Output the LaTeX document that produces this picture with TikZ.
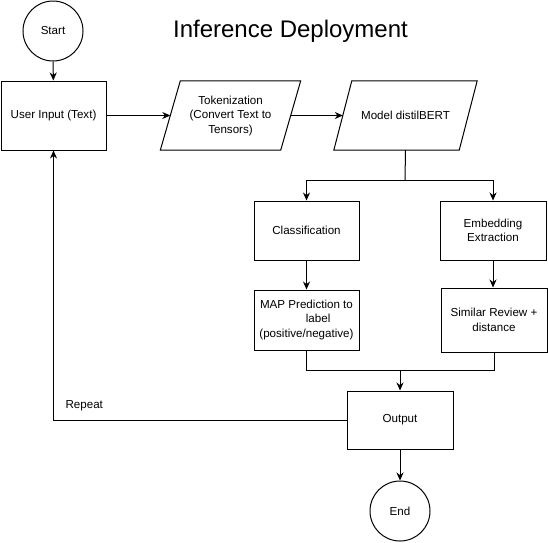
\documentclass[tikz,border=0pt]{standalone}
\usepackage{fontspec}
\setmainfont{Liberation Sans}
\usetikzlibrary{arrows.meta, positioning, calc}
\tikzset{
    blocco/.style={draw, line width=1pt, minimum width=105pt, minimum height=59pt, align=center, inner sep=2pt},
    parall/.style={minimum width=120pt, minimum height=69pt, align=center, inner sep=1pt},
    cerchio/.style={draw, circle, line width=1pt, minimum size=60pt, inner sep=0pt},
    freccia/.style={line width=1pt, -{Stealth[length=8pt, width=7pt]}},
    linea/.style={line width=1pt}
}

\begin{document}
\begin{tikzpicture}[x=1pt, y=-1pt, every node/.style={font=\fontsize{11.6}{14.5}\selectfont}]
    \useasboundingbox (0,0) rectangle (548,542);

    % Titolo
    \node (titolo) at (290.5,31) {\fontsize{24}{28}\selectfont Inference Deployment};

    % Inizio e input
    \node[cerchio] (start) at (53,31) {Start};
    \node[blocco, minimum height=69pt] (input) at (53.5,115.5) {User Input (Text)};

    % Tokenizzazione e modello (parallelogrammi)
    \node[parall] (token) at (230.5,115.5) {Tokenization\\(Convert Text to\\Tensors)};
    \node[parall, minimum width=125pt] (modello) at (405.5,115.5) {Model distilBERT};
    \draw[linea] ($(token.north west)+(10,0)$) -- ($(token.north east)+(10,0)$)
        -- ($(token.south east)+(-10,0)$) -- ($(token.south west)+(-10,0)$) -- cycle;
    \draw[linea] ($(modello.north west)+(9,0)$) -- ($(modello.north east)+(9,0)$)
        -- ($(modello.south east)+(-9,0)$) -- ($(modello.south west)+(-9,0)$) -- cycle;

    % Rami: classificazione ed embedding
    \node[blocco] (classif) at (306.5,230.5) {Classification};
    \node[blocco, minimum width=106pt] (embed) at (493,230.5) {Embedding\\Extraction};
    \node[blocco, minimum height=60pt] (mappa) at (306.5,320)
        {\begin{tabular}{@{}c@{}}MAP Prediction to\\ \hfil label\hfil\\(positive/negative)\end{tabular}};
    \node[blocco, minimum width=106pt, minimum height=64pt] (simile) at (494,320) {Similar Review +\\distance};

    % Uscita e fine
    \node[blocco, minimum width=106pt, minimum height=58pt] (uscita) at (400,420) {Output};
    \node[cerchio] (fine) at (400,511) {End};
    \node[anchor=west] (ripeti) at (62,406) {Repeat};

    \coordinate (divide) at (405,180);
    \coordinate (unisci) at (400,370);

    % Frecce principali
    \draw[freccia] (start) -- (input);
    \draw[freccia] (input) -- (token);
    \draw[freccia] (token) -- (modello);
    \draw[linea] (modello.south) -- (divide);
    \draw[freccia] (divide) -| (classif.north);
    \draw[freccia] (divide) -| (embed.north);
    \draw[freccia] (classif) -- (mappa);
    \draw[freccia] (embed.south) -- (embed.south |- simile.north);
    \draw[linea] (mappa.south) |- (unisci) -| (simile.south);
    \draw[freccia] (unisci) -- (uscita.north);
    \draw[freccia] (uscita) -- (fine);

    % Ciclo di ripetizione
    \draw[freccia] (uscita.west) -| (input.south);
\end{tikzpicture}
\end{document}
